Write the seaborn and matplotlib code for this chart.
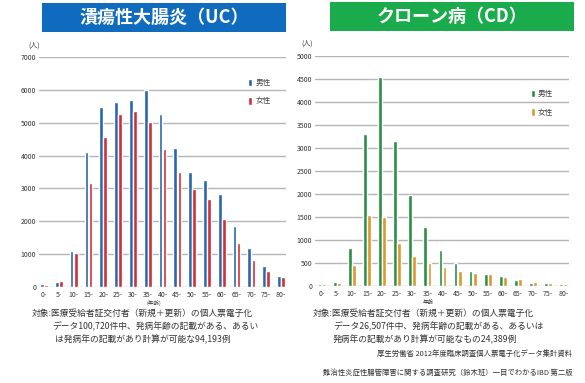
import pandas as pd
import matplotlib.pyplot as plt
import seaborn as sns
from matplotlib.patches import Rectangle

# 年齢階級（発病年齢）
ages = ['0-', '5-', '10-', '15-', '20-', '25-', '30-', '35-', '40-',
        '45-', '50-', '55-', '60-', '65-', '70-', '75-', '80-']

# 潰瘍性大腸炎（UC）
uc_male = [90, 165, 1100, 4100, 5480, 5620, 5700, 6000, 5270,
           4230, 3500, 3250, 2830, 1850, 1190, 640, 330]
uc_female = [70, 190, 1030, 3170, 4570, 5250, 5370, 5030, 4200,
             3490, 2980, 2680, 2060, 1330, 830, 500, 310]

# クローン病（CD）
cd_male = [40, 85, 830, 3300, 4550, 3145, 1970, 1268, 768,
           500, 319, 261, 210, 130, 65, 50, 30]
cd_female = [30, 50, 450, 1530, 1500, 940, 650, 500, 400,
             320, 270, 250, 190, 150, 90, 65, 30]

sns.set_theme(style='white')
plt.rcParams['font.family'] = ['Noto Sans CJK JP', 'DejaVu Sans']


def long_df(male, female):
    return pd.DataFrame({
        'age': ages * 2,
        'count': male + female,
        'sex': ['男性'] * len(ages) + ['女性'] * len(ages),
    })


fig = plt.figure(figsize=(5.85, 3.83), dpi=100)

panels = [
    dict(rect=[0.0667, 0.2507, 0.4222, 0.6005], df=long_df(uc_male, uc_female),
         colors=['#1463c4', '#ec1220'], ymax=7000, step=1000, xlim=(-0.34, 16.34),
         box=(0.0718, 0.9164, 0.4171, 0.0757), title='潰瘍性大腸炎（UC）', bc='#0f6bbd',
         leg=(0.418, 0.805), unit=(0.058, 0.882), xlab=(0.263, 0.209), xlabtxt='(年齢)'),
    dict(rect=[0.5385, 0.2540, 0.4342, 0.5997], df=long_df(cd_male, cd_female),
         colors=['#17a03c', '#f7a00f'], ymax=5000, step=500, xlim=(-0.44, 16.38),
         box=(0.5641, 0.9190, 0.4171, 0.0757), title='クローン病（CD）', bc='#1aac4c',
         leg=(0.901, 0.776), unit=(0.525, 0.887), xlab=(0.732, 0.209), xlabtxt='年齢'),
]

for p in panels:
    ax = fig.add_axes(p['rect'])
    sns.barplot(data=p['df'], x='age', y='count', hue='sex', palette=p['colors'],
                width=0.55, gap=0.1, ax=ax)
    ax.set_ylim(0, p['ymax'])
    ax.set_xlim(*p['xlim'])
    ax.set_yticks(range(0, p['ymax'] + 1, p['step']))
    ax.grid(axis='y', color='#b5b5b5', linewidth=1.0)
    ax.set_axisbelow(True)
    for s in ax.spines.values():
        s.set_visible(False)
    ax.tick_params(axis='both', length=0, labelsize=5, colors='#333333', pad=2)
    ax.tick_params(axis='x', pad=3)
    ax.set_xlabel('')
    ax.set_ylabel('')
    ax.legend(loc='upper left', bbox_to_anchor=p['leg'], bbox_transform=fig.transFigure,
              frameon=False, fontsize=5.5, handlelength=0.5, handleheight=1.2,
              labelspacing=1.3, handletextpad=0.4, borderpad=0, labelcolor='#444444')

    x0, y0, w, h = p['box']
    fig.patches.append(Rectangle((x0, y0), w, h, transform=fig.transFigure,
                                 facecolor=p['bc'], edgecolor='none', zorder=0))
    fig.text(x0 + w / 2, y0 + h / 2, p['title'], color='white', fontsize=13,
             fontweight='bold', ha='center', va='center')
    fig.text(*p['unit'], '(人)', fontsize=5, color='#333333', ha='center', va='center')
    fig.text(*p['xlab'], p['xlabtxt'], fontsize=4, color='#333333', ha='center', va='center')

note_kw = dict(fontsize=6.3, color='#333333', ha='left', va='center')
fig.text(0.055, 0.181, '対象:医療受給者証交付者（新規＋更新）の個人票電子化', **note_kw)
fig.text(0.090, 0.148, 'データ100,720件中、発病年齢の記載がある、あるい', **note_kw)
fig.text(0.094, 0.114, 'は発病年の記載があり計算が可能な94,193例', **note_kw)

fig.text(0.535, 0.181, '対象:医療受給者証交付者（新規＋更新）の個人票電子化', **note_kw)
fig.text(0.569, 0.148, 'データ26,507件中、発病年齢の記載がある、あるいは', **note_kw)
fig.text(0.569, 0.114, '発病年の記載があり計算が可能なもの24,389例', **note_kw)

fig.text(0.978, 0.076, '厚生労働省 2012年度臨床調査個人票電子化データ集計資料',
         fontsize=5.3, color='#333333', ha='right', va='center')
fig.text(0.978, 0.026, '難治性炎症性腸管障害に関する調査研究（鈴木班）一目でわかるIBD 第二版',
         fontsize=5.3, color='#333333', ha='right', va='center')

fig.savefig('out.png', dpi=100)
